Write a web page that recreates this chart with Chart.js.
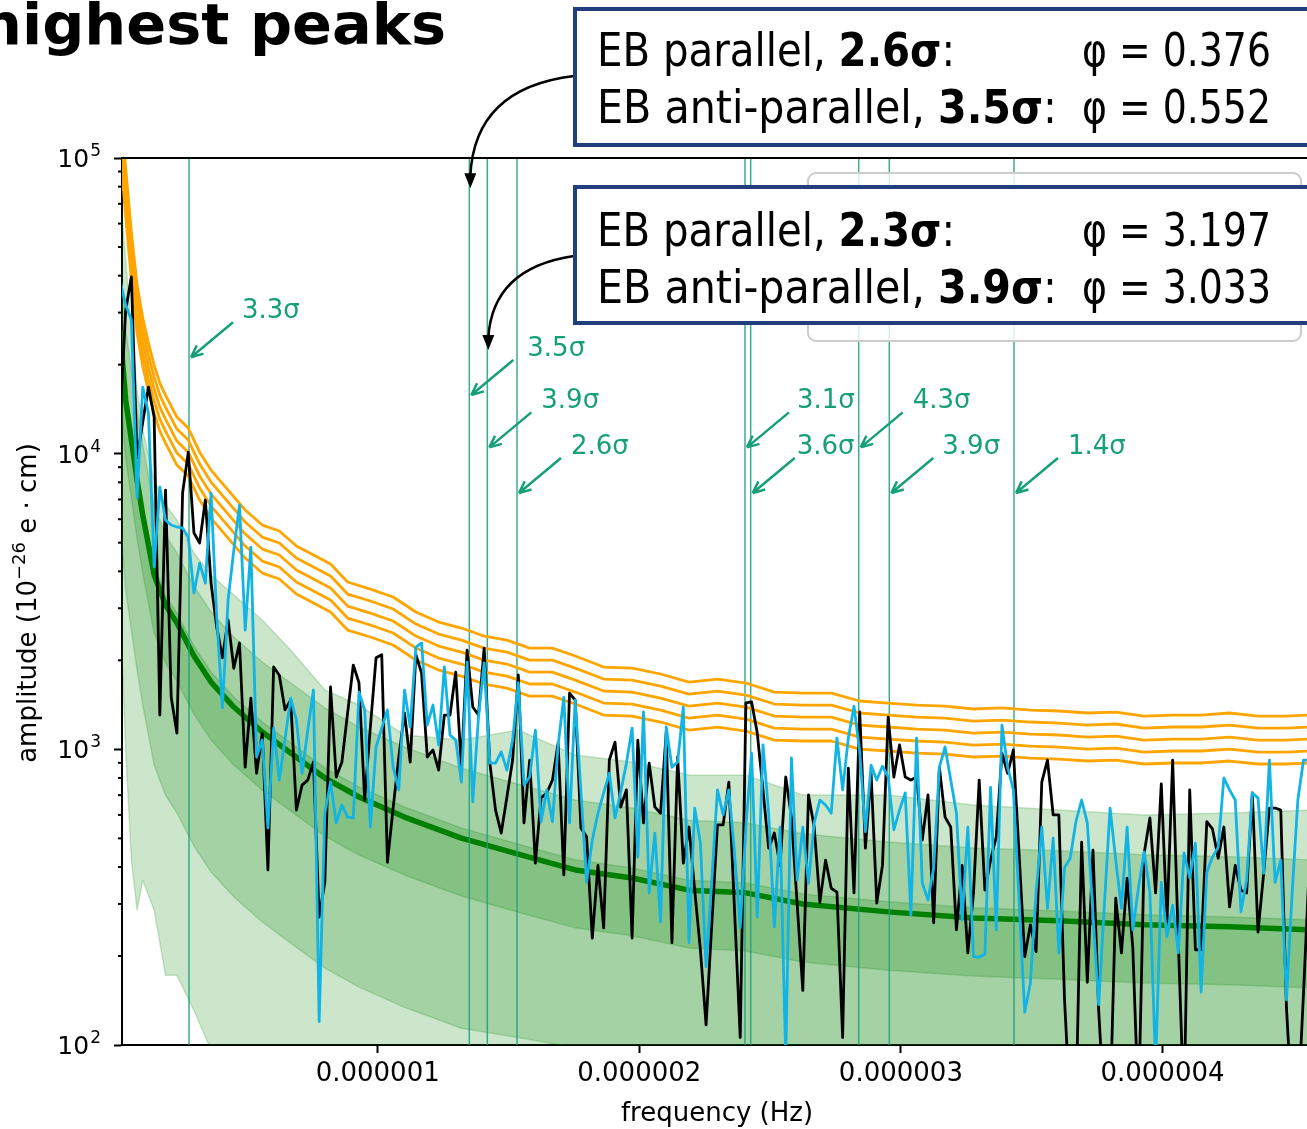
<!DOCTYPE html>
<html>
<head>
<meta charset="utf-8">
<title>highest peaks</title>
<script src="https://cdn.jsdelivr.net/npm/chart.js@4.4.1/dist/chart.umd.min.js"></script>
<style>
  html, body { margin: 0; padding: 0; background: #fff; overflow: hidden; }
  #wrap { position: relative; width: 1307px; height: 1129px; overflow: hidden; }
  #chart, #overlay { position: absolute; left: 0; top: 0; }
  #overlay text { font-family: "DejaVu Sans", sans-serif; fill: #000; }
</style>
</head>
<body>
<div id="wrap">
  <canvas id="chart" width="1307" height="1129"></canvas>
  <svg id="overlay" width="1307" height="1129" viewBox="0 0 1307 1129">
    <text x="-20" y="44" font-size="57" font-weight="bold" textLength="466" lengthAdjust="spacingAndGlyphs">highest peaks</text>
    <!-- legend frame, almost fully covered by the two note boxes -->
    <rect x="808" y="173" width="493" height="168" rx="8" fill="rgba(255,255,255,0.8)" stroke="#cccccc" stroke-width="2"/>
    <rect x="575" y="9" width="760" height="136" fill="#fff" stroke="#213f7c" stroke-width="4"/>
    <text x="597" y="66" font-size="46" textLength="358" lengthAdjust="spacingAndGlyphs">EB parallel, <tspan font-weight="bold">2.6σ</tspan>:</text>
    <text x="1082" y="66" font-size="46" textLength="189" lengthAdjust="spacingAndGlyphs">φ = 0.376</text>
    <text x="597" y="123" font-size="46" textLength="460" lengthAdjust="spacingAndGlyphs">EB anti-parallel, <tspan font-weight="bold">3.5σ</tspan>:</text>
    <text x="1082" y="123" font-size="46" textLength="189" lengthAdjust="spacingAndGlyphs">φ = 0.552</text>
    <rect x="575" y="187" width="760" height="136" fill="#fff" stroke="#213f7c" stroke-width="4"/>
    <text x="597" y="246" font-size="46" textLength="358" lengthAdjust="spacingAndGlyphs">EB parallel, <tspan font-weight="bold">2.3σ</tspan>:</text>
    <text x="1082" y="246" font-size="46" textLength="189" lengthAdjust="spacingAndGlyphs">φ = 3.197</text>
    <text x="597" y="303" font-size="46" textLength="460" lengthAdjust="spacingAndGlyphs">EB anti-parallel, <tspan font-weight="bold">3.9σ</tspan>:</text>
    <text x="1082" y="303" font-size="46" textLength="189" lengthAdjust="spacingAndGlyphs">φ = 3.033</text>
  </svg>
</div>
<script>
// spectrum frequency grid (Hz): bin k sits at freqStart + k * freqStep
const freqStart = 0.01491e-6;
const freqStep = 0.021751e-6;

// amplitude spectra, one value per bin (10^-26 e cm)
const parallelAmp = [
  13000, 30600, 39600, 9670, 12790, 16800, 13300, 1306, 7530, 1500,
  1135, 7360, 10120, 5390, 4990, 6970, 3650, 2590, 2040, 2740,
  1880, 2290, 870, 1490, 830, 1135, 391, 1900, 1780, 1360,
  1470, 623, 757, 787, 906, 271, 355, 1625, 806, 906,
  1327, 1928, 1680, 674, 1190, 2040, 2090, 415, 633, 942,
  1327, 906, 2090, 1810, 942, 995, 851, 1306, 1306, 1825,
  870, 2167, 1390, 1306, 2200, 898, 623, 521, 690, 920,
  1785, 564, 920, 412, 685, 712, 787, 1050, 376, 1550,
  1468, 542, 506, 230, 405, 249, 920, 1058, 638, 729,
  230, 1075, 564, 898, 638, 608, 1143, 222, 942, 412,
  546, 334, 210, 117, 255, 555, 555, 775, 286, 106,
  1435, 1446, 1135, 729, 463, 521, 405, 806, 590, 302,
  153, 701, 546, 304, 422, 339, 329, 106, 864, 327,
  1338, 463, 830, 302, 405, 1285, 806, 1035, 806, 787,
  806, 493, 701, 259, 870, 590, 546, 245, 405, 205,
  327, 787, 334, 422, 506, 970, 830, 995, 446, 199,
  255, 207, 775, 920, 600, 600, 142, 60, 60, 485,
  163, 456, 131, 60, 60, 314, 205, 367, 213, 60,
  446, 586, 327, 764, 261, 920, 222, 60, 729, 210,
  210, 569, 538, 428, 546, 293, 405, 334, 327, 712,
  241, 381, 633, 633, 623, 134, 60, 60, 150, 400
];
const antiParallelAmp = [
  38600, 31800, 28300, 7080, 16800, 13700, 4140, 7710, 5960, 5740,
  5650, 5600, 5220, 3380, 4260, 3650, 7360, 2800, 1380, 3200,
  4720, 6700, 2530, 4830, 942, 1075, 542, 1180, 787, 1083,
  1490, 1256, 830, 1162, 1587, 120, 608, 775, 564, 648,
  590, 586, 1560, 1358, 546, 1018, 1180, 1358, 870, 729,
  1587, 1190, 2217, 2290, 1208, 1412, 1035, 1900, 1117, 1075,
  775, 1970, 664, 1285, 1960, 898, 898, 980, 851, 1075,
  1680, 757, 806, 1162, 569, 729, 569, 1035, 1500, 564,
  1468, 723, 355, 493, 608, 712, 830, 586, 718, 898,
  1180, 432, 1338, 327, 521, 261, 1190, 870, 906, 1390,
  222, 633, 482, 184, 361, 729, 600, 729, 446, 249,
  546, 970, 271, 1035, 608, 251, 546, 90, 935, 361,
  546, 353, 564, 674, 648, 608, 1092, 729, 1092, 1400,
  980, 527, 884, 787, 877, 806, 534, 623, 712, 275,
  1092, 353, 309, 398, 870, 1018, 787, 608, 265, 546,
  199, 198, 203, 744, 245, 1208, 870, 729, 309, 129,
  162, 327, 546, 290, 501, 205, 398, 428, 569, 674,
  564, 275, 137, 297, 633, 422, 290, 546, 245, 342,
  450, 327, 85, 355, 232, 297, 205, 446, 367, 482,
  151, 384, 432, 467, 800, 729, 674, 282, 361, 712,
  685, 381, 920, 355, 422, 142, 327, 674, 920, 920
];

// null distribution: median and 1/2/3 sigma envelopes, sampled on these bins
const bandBins = [0, 1, 2, 3, 4, 6, 8, 10, 13, 16, 20, 25, 30, 36, 42, 50, 60, 70, 80, 90, 100, 110, 120, 135, 150, 165, 180, 195, 209];
const nullMedian = [26180, 15180, 11120, 8140, 6200, 3885, 3076, 2674, 2068, 1689, 1390, 1144, 972, 800, 690, 590, 501, 442, 391, 367, 334, 327, 300, 282, 269, 263, 255, 251, 245];
const sigma1Upper = [28300, 16410, 12020, 8800, 6700, 4200, 3325, 2890, 2235, 1826, 1503, 1237, 1051, 865, 746, 638, 542, 478, 423, 397, 361, 353, 324, 305, 291, 284, 276, 271, 265];
const sigma1Lower = [16660, 9660, 7080, 5180, 3946, 2473, 1958, 1702, 1316, 1075, 885, 728, 619, 509, 439, 376, 319, 281, 249, 234, 213, 208, 191, 179, 171, 167, 162, 160, 156];
const sigma2Upper = [45160, 26190, 19180, 14040, 10700, 6700, 5306, 4613, 3567, 2914, 2398, 1973, 1677, 1380, 1190, 1018, 864, 762, 674, 633, 576, 564, 518, 486, 464, 454, 440, 433, 423];
const sigma2Lower = [5960, 3460, 2530, 1855, 1412, 885, 700, 609, 471, 385, 317, 261, 221, 182, 157, 134, 114, 106, 98, 95, 90, 92, 86, 81, 77, 76, 73, 72, 70];
const sigma3Upper = [77900, 45140, 26180, 16410, 12020, 8144, 6702, 5964, 4612, 3885, 3325, 2737, 2167, 1587, 1412, 1118, 1075, 1162, 956, 906, 819, 818, 701, 701, 648, 623, 600, 609, 623];
const sigma3Lower = [3200, 995, 422, 286, 361, 286, 172, 172, 131, 96, 60, 50, 40, 35, 30, 28, 25, 24, 22, 21, 20, 20, 19, 18, 17, 17, 16, 16, 15];

// detection thresholds (orange), sampled on these bins
const threshBins = [0, 1, 2, 3, 4, 5, 6, 7, 8, 10, 12, 14, 16, 19, 22, 25, 28, 31, 34, 37, 40, 44, 48, 52, 56, 60, 64, 68, 72, 76, 80, 85, 90, 95, 100, 105, 110, 115, 120, 125, 130, 135, 140, 145, 150, 155, 160, 165, 170, 175, 180, 185, 190, 195, 200, 205, 209];
const thresh1 = [157000, 92440, 56150, 37170, 28750, 23660, 19930, 17330, 15780, 13300, 12210, 10120, 8800, 7533, 6447, 5735, 5475, 4870, 4541, 4234, 3680, 3484, 3274, 2913, 2695, 2572, 2416, 2342, 2200, 2200, 2068, 1898, 1883, 1798, 1689, 1729, 1676, 1562, 1550, 1550, 1457, 1434, 1412, 1401, 1369, 1380, 1358, 1348, 1327, 1337, 1296, 1306, 1306, 1327, 1296, 1296, 1306];
const thresh2 = [143000, 84200, 51150, 33850, 26180, 21550, 18160, 15780, 14370, 12110, 11120, 9222, 8015, 6860, 5872, 5223, 4986, 4436, 4136, 3856, 3351, 3174, 2982, 2653, 2454, 2342, 2200, 2133, 2004, 2004, 1883, 1729, 1715, 1637, 1538, 1574, 1526, 1423, 1412, 1412, 1327, 1306, 1286, 1276, 1246, 1256, 1237, 1227, 1208, 1218, 1180, 1190, 1190, 1208, 1180, 1180, 1190];
const thresh3 = [130200, 76650, 46580, 30830, 23850, 19630, 16530, 14370, 13090, 11030, 10120, 8400, 7300, 6248, 5347, 4757, 4541, 4040, 3767, 3512, 3052, 2890, 2716, 2416, 2235, 2133, 2004, 1943, 1825, 1825, 1715, 1575, 1562, 1491, 1401, 1434, 1390, 1296, 1286, 1286, 1208, 1190, 1171, 1162, 1135, 1144, 1126, 1118, 1100, 1109, 1075, 1083, 1083, 1100, 1075, 1075, 1083];
const thresh4 = [118600, 69820, 42420, 28070, 21720, 17880, 15060, 13090, 11920, 10050, 9222, 7650, 6648, 5690, 4870, 4333, 4136, 3679, 3430, 3199, 2780, 2633, 2474, 2200, 2036, 1943, 1825, 1769, 1663, 1663, 1562, 1434, 1423, 1358, 1276, 1306, 1266, 1180, 1171, 1171, 1100, 1083, 1067, 1058, 1034, 1042, 1026, 1018, 1002, 1010, 979, 987, 987, 1002, 979, 979, 987];
const thresh5 = [108000, 63580, 38640, 25570, 19780, 16280, 13720, 11920, 10860, 9150, 8400, 6966, 6055, 5183, 4436, 3946, 3767, 3351, 3124, 2913, 2532, 2398, 2253, 2004, 1854, 1769, 1663, 1611, 1514, 1514, 1423, 1306, 1296, 1237, 1162, 1189, 1153, 1075, 1067, 1067, 1002, 987, 971, 964, 942, 949, 934, 927, 913, 920, 892, 899, 899, 913, 892, 892, 899];

// marked peaks: frequency (Hz), label, amplitude where the small arrow points
const peakFreqs = [0.2787e-6, 1.3502e-6, 1.4190e-6, 1.5325e-6, 2.4040e-6, 2.4258e-6, 2.8387e-6, 2.9557e-6, 3.4323e-6];
const peakLabels = ['3.3σ', '3.5σ', '3.9σ', '2.6σ', '3.1σ', '3.6σ', '4.3σ', '3.9σ', '1.4σ'];
const peakTipAmp = [21200, 15800, 10500, 7360, 10500, 7360, 10500, 7360, 7360];
const peakLabelDx = [51, 56, 52, 52, 50, 44, 52, 51, 52];

// note boxes point at these peaks
const noteLinks = [
  { peak: 1, amp: 79000, from: [574, 76] },
  { peak: 2, amp: 22400, from: [574, 256] }
];

const markColor = '#17a078';
const bandFill = 'rgba(0, 128, 0, 0.2)';

const freqOf = k => freqStart + k * freqStep;
const series = vals => vals.map((v, k) => ({ x: freqOf(k), y: v }));
const sampled = (bins, vals) => bins.map((b, i) => ({ x: freqOf(b), y: vals[i] }));
const isDecade = v => { const l = Math.log10(v); return Math.abs(l - Math.round(l)) < 1e-6; };

function arrowLine(ctx, x0, y0, x1, y1, head) {
  ctx.beginPath();
  ctx.moveTo(x0, y0);
  ctx.lineTo(x1, y1);
  const ang = Math.atan2(y1 - y0, x1 - x0);
  for (const s of [-1, 1]) {
    const a = ang + Math.PI + s * 0.42;
    ctx.moveTo(x1, y1);
    ctx.lineTo(x1 + head * Math.cos(a), y1 + head * Math.sin(a));
  }
  ctx.stroke();
}

const lineBase = { pointRadius: 0, pointHitRadius: 0, tension: 0, borderJoinStyle: 'round', fill: false };

const datasets = [
  { ...lineBase, label: 'anti-parallel', data: series(antiParallelAmp), borderColor: '#12b4e6', borderWidth: 2.8, order: 1 },
  { ...lineBase, label: 'parallel', data: series(parallelAmp), borderColor: '#000000', borderWidth: 2.8, order: 2 }
];
[thresh1, thresh2, thresh3, thresh4, thresh5].forEach((t, i) => {
  datasets.push({ ...lineBase, label: 'threshold ' + (i + 1), data: sampled(threshBins, t), borderColor: '#ffa500', borderWidth: 2.8, order: 3 });
});
peakFreqs.forEach((f, i) => {
  datasets.push({ ...lineBase, label: peakLabels[i], data: [{ x: f, y: 100 }, { x: f, y: 100000 }], borderColor: 'rgba(23,160,120,0.85)', borderWidth: 1.5, order: 4 });
});
datasets.push({ ...lineBase, label: 'median', data: sampled(bandBins, nullMedian), borderColor: '#008000', borderWidth: 5.5, order: 5 });
[[sigma3Upper, sigma3Lower], [sigma2Upper, sigma2Lower], [sigma1Upper, sigma1Lower]].forEach(([up, lo], i) => {
  datasets.push({ ...lineBase, label: 'band up ' + i, data: sampled(bandBins, up), borderColor: bandFill, borderWidth: 1.5, backgroundColor: bandFill, fill: '+1', order: 6 + i });
  datasets.push({ ...lineBase, label: 'band lo ' + i, data: sampled(bandBins, lo), borderColor: bandFill, borderWidth: 1.5, order: 6 + i });
});

const decorations = {
  id: 'decorations',
  afterDatasetsDraw(chart) {
    const { ctx, scales: { x, y } } = chart;
    ctx.save();
    // sigma labels with their short arrows
    ctx.strokeStyle = markColor;
    ctx.fillStyle = markColor;
    ctx.lineWidth = 2.5;
    ctx.font = '26px "DejaVu Sans"';
    ctx.textAlign = 'left';
    ctx.textBaseline = 'middle';
    peakFreqs.forEach((f, i) => {
      const tx = x.getPixelForValue(f) + 2;
      const ty = y.getPixelForValue(peakTipAmp[i]);
      arrowLine(ctx, tx + 42, ty - 35, tx, ty, 13);
      ctx.fillText(peakLabels[i], tx + peakLabelDx[i], ty - 46);
    });
    // curved connectors from the note boxes
    ctx.strokeStyle = '#000';
    ctx.fillStyle = '#000';
    ctx.lineWidth = 2.5;
    noteLinks.forEach(n => {
      const tx = x.getPixelForValue(peakFreqs[n.peak]) + 1;
      const ty = y.getPixelForValue(n.amp);
      ctx.beginPath();
      ctx.moveTo(n.from[0], n.from[1]);
      ctx.quadraticCurveTo(tx + 4, n.from[1] + 12, tx, ty - 12);
      ctx.stroke();
      ctx.beginPath();
      ctx.moveTo(tx, ty);
      ctx.lineTo(tx - 6, ty - 15);
      ctx.lineTo(tx + 6, ty - 15);
      ctx.closePath();
      ctx.fill();
    });
    ctx.restore();
  },
  afterDraw(chart) {
    const { ctx, chartArea: a, scales: { y } } = chart;
    ctx.save();
    ctx.strokeStyle = '#000';
    ctx.lineWidth = 2;
    // top spine
    ctx.beginPath();
    ctx.moveTo(a.left, a.top);
    ctx.lineTo(a.right, a.top);
    ctx.stroke();
    // short minor ticks on the log axis, decade labels with raised exponent
    ctx.fillStyle = '#000';
    ctx.textBaseline = 'alphabetic';
    ctx.textAlign = 'right';
    y.ticks.forEach(t => {
      const py = y.getPixelForValue(t.value);
      if (!isDecade(t.value)) {
        ctx.beginPath();
        ctx.moveTo(a.left - 4, py);
        ctx.lineTo(a.left, py);
        ctx.stroke();
        return;
      }
      const exp = String(Math.round(Math.log10(t.value)));
      ctx.font = '17px "DejaVu Sans"';
      ctx.fillText(exp, 101, py - 2);
      const ew = ctx.measureText(exp).width;
      ctx.font = '25px "DejaVu Sans"';
      ctx.fillText('10', 101 - ew - 1, py + 9);
    });
    // axis titles
    ctx.font = '26px "DejaVu Sans"';
    ctx.textAlign = 'center';
    ctx.fillText('frequency (Hz)', 717, 1121);
    ctx.translate(36, 603);
    ctx.rotate(-Math.PI / 2);
    const parts = [['amplitude (10', 26, 0], ['−26', 18, -11], [' e · cm)', 26, 0]];
    let total = 0;
    parts.forEach(p => { ctx.font = p[1] + 'px "DejaVu Sans"'; total += ctx.measureText(p[0]).width; });
    let cx = -total / 2;
    ctx.textAlign = 'left';
    parts.forEach(p => {
      ctx.font = p[1] + 'px "DejaVu Sans"';
      ctx.fillText(p[0], cx, p[2]);
      cx += ctx.measureText(p[0]).width;
    });
    ctx.restore();
  }
};

Chart.defaults.font.family = '"DejaVu Sans", sans-serif';
Chart.defaults.color = '#000';

new Chart(document.getElementById('chart'), {
  type: 'line',
  data: { datasets },
  options: {
    responsive: false,
    animation: false,
    devicePixelRatio: 1,
    events: [],
    layout: { padding: { top: 158, right: 0, bottom: 0, left: 0 } },
    plugins: { legend: { display: false }, tooltip: { enabled: false } },
    scales: {
      x: {
        type: 'linear',
        min: 0.02255e-6,
        max: 4.5524e-6,
        afterFit: s => { s.height = 84; },
        afterBuildTicks: s => { s.ticks = [1e-6, 2e-6, 3e-6, 4e-6].map(v => ({ value: v })); },
        ticks: { font: { size: 26 }, padding: 6, maxRotation: 0, callback: v => v.toFixed(6) },
        grid: { drawOnChartArea: false, tickLength: 8, tickWidth: 2, tickColor: '#000' },
        border: { color: '#000', width: 2 }
      },
      y: {
        type: 'logarithmic',
        min: 100,
        max: 100000,
        afterFit: s => { s.width = 122; },
        afterBuildTicks: s => {
          const t = [];
          for (let e = 2; e <= 4; e++) {
            for (let m = 1; m <= 9; m++) t.push({ value: m * Math.pow(10, e) });
          }
          t.push({ value: 100000 });
          s.ticks = t;
        },
        ticks: { autoSkip: false, callback: () => '' },
        grid: {
          drawOnChartArea: false,
          tickLength: 8,
          tickWidth: 2,
          tickColor: c => (c.tick && isDecade(c.tick.value)) ? '#000' : 'rgba(0,0,0,0)'
        },
        border: { color: '#000', width: 2 }
      }
    }
  },
  plugins: [decorations]
});
</script>
</body>
</html>
